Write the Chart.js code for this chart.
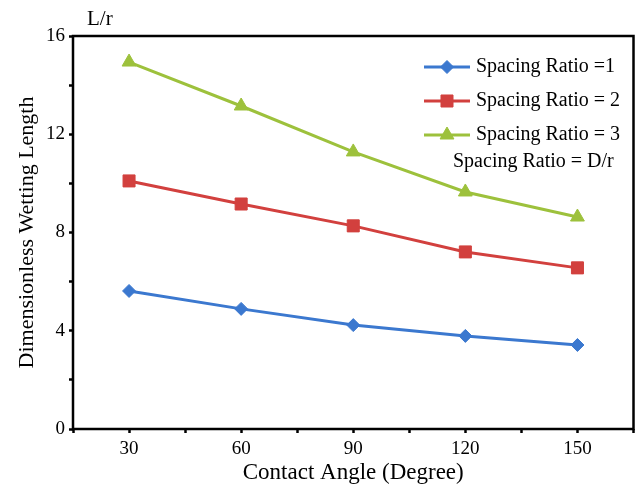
<!DOCTYPE html>
<html>
<head>
<meta charset="utf-8">
<script src="https://cdn.jsdelivr.net/npm/chart.js@4.4.1/dist/chart.umd.min.js"></script>
<style>
  html, body { margin: 0; padding: 0; background: #fff; }
  #wrap { width: 643px; height: 489px; }
</style>
</head>
<body>
<div id="wrap"><canvas id="wetChart" width="643" height="489"></canvas></div>
<script>
// contact angle (degree) on x, dimensionless wetting length L/r on y
const angles = [30, 60, 90, 120, 150];
const ratio1 = [5.62, 4.89, 4.23, 3.79, 3.42];
const ratio2 = [10.1, 9.16, 8.27, 7.21, 6.56];
const ratio3 = [14.94, 13.15, 11.28, 9.65, 8.63];
const seriesNames = ['Spacing Ratio =1', 'Spacing Ratio = 2', 'Spacing Ratio = 3'];
const yTicks = [0, 4, 8, 12, 16];
const xTicks = [30, 60, 90, 120, 150];

const SERIF = '"Liberation Serif", "DejaVu Serif", serif';

function pts(vals) {
    return angles.map((a, i) => ({ x: a, y: vals[i] }));
}

// box around the plot + the legend in the upper right + "L/r" label
const framePlugin = {
    id: 'frame',
    afterDraw(chart) {
        const { ctx, chartArea: a } = chart;
        ctx.save();
        ctx.strokeStyle = '#000';
        ctx.lineWidth = 2.5;
        ctx.strokeRect(a.left, a.top, a.right - a.left, a.bottom - a.top);

        ctx.fillStyle = '#000';
        ctx.font = '21px ' + SERIF;
        ctx.textBaseline = 'middle';
        ctx.textAlign = 'left';
        ctx.fillText('L/r', 87, 19);

        // legend
        ctx.font = '20px ' + SERIF;
        chart.data.datasets.forEach((ds, i) => {
            const y = 67 + i * 34;
            ctx.strokeStyle = ds.borderColor;
            ctx.fillStyle = ds.backgroundColor;
            ctx.lineWidth = 3;
            ctx.beginPath();
            ctx.moveTo(424, y);
            ctx.lineTo(470, y);
            ctx.stroke();
            ctx.lineWidth = 1;
            Chart.helpers.drawPoint(ctx, {
                pointStyle: ds.pointStyle,
                radius: ds.pointRadius,
                borderWidth: 1
            }, 447, y);
            ctx.fillStyle = '#000';
            ctx.fillText(ds.label, 476, y);
        });
        ctx.fillText('Spacing Ratio = D/r', 453, 162);
        ctx.restore();
    }
};

function makeSet(label, vals, color, style, r) {
    return {
        label: label,
        data: pts(vals),
        borderColor: color,
        backgroundColor: color,
        pointBackgroundColor: color,
        pointBorderColor: color,
        borderWidth: 3,
        pointStyle: style,
        pointRadius: r,
        pointBorderWidth: 1,
        tension: 0,
        fill: false
    };
}

new Chart(document.getElementById('wetChart'), {
    type: 'line',
    data: {
        datasets: [
            makeSet(seriesNames[0], ratio1, '#3b78cf', 'rectRot', 6.5),
            makeSet(seriesNames[1], ratio2, '#d2403e', 'rect', 8.5),
            makeSet(seriesNames[2], ratio3, '#9dc13c', 'triangle', 8)
        ]
    },
    options: {
        responsive: false,
        animation: false,
        layout: { padding: { top: 36, right: 7, left: 0, bottom: 0 } },
        plugins: { legend: { display: false }, tooltip: { enabled: false } },
        scales: {
            x: {
                type: 'linear',
                min: 15,
                max: 165,
                afterBuildTicks(axis) {
                    const t = [];
                    for (let v = 15; v <= 165; v += 15) t.push({ value: v });
                    axis.ticks = t;
                },
                afterFit(axis) { axis.height = 60; },
                grid: { drawOnChartArea: false, tickLength: 4, tickColor: '#000', tickWidth: 2.5 },
                border: { display: false },
                ticks: {
                    padding: 5,
                    color: '#000',
                    font: { family: SERIF, size: 19 },
                    callback: v => (xTicks.includes(v) ? String(v) : '')
                },
                title: {
                    display: true,
                    text: 'Contact Angle (Degree)',
                    color: '#000',
                    font: { family: SERIF, size: 23 },
                    padding: { top: 0, bottom: 2 }
                }
            },
            y: {
                min: 0,
                max: 16,
                afterBuildTicks(axis) {
                    const t = [];
                    for (let v = 0; v <= 16; v += 2) t.push({ value: v });
                    axis.ticks = t;
                },
                afterFit(axis) { axis.width = 73; },
                grid: { drawOnChartArea: false, tickLength: 4, tickColor: '#000', tickWidth: 2.5 },
                border: { display: false },
                ticks: {
                    padding: 4,
                    color: '#000',
                    font: { family: SERIF, size: 19 },
                    callback: v => (yTicks.includes(v) ? String(v) : '')
                },
                title: {
                    display: true,
                    text: 'Dimensionless Wetting Length',
                    color: '#000',
                    font: { family: SERIF, size: 22 },
                    padding: { top: 14, bottom: 0 }
                }
            }
        }
    },
    plugins: [framePlugin]
});
</script>
</body>
</html>
